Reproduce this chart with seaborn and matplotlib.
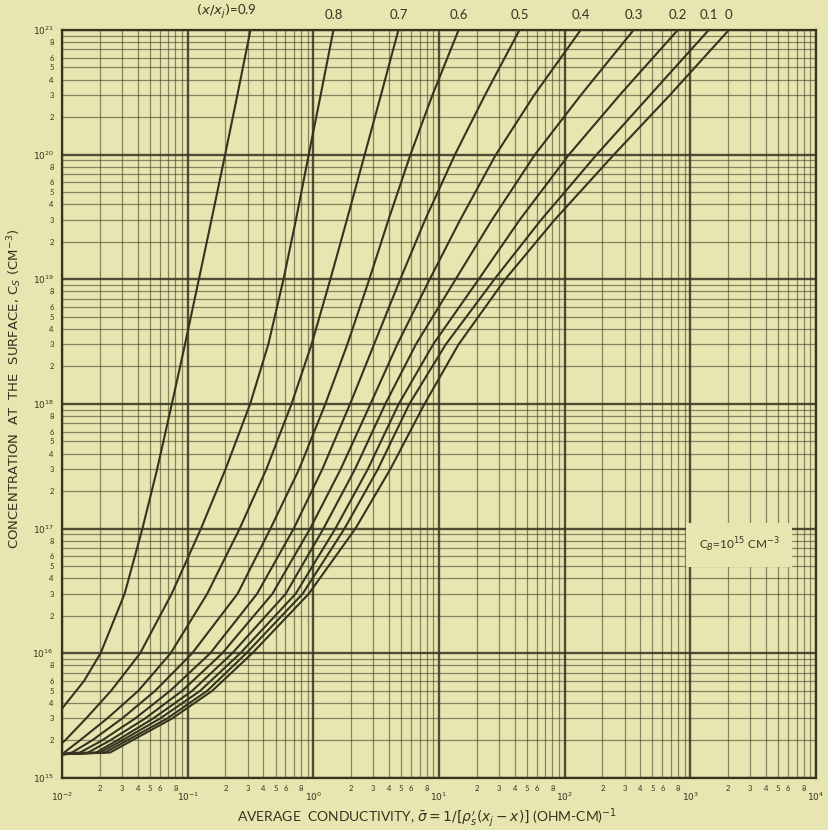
import numpy as np
import pandas as pd
import matplotlib
matplotlib.use("Agg")
import matplotlib.pyplot as plt
import seaborn as sns

# curve labels (x / xj)
ratios = ["0.9", "0.8", "0.7", "0.6", "0.5", "0.4", "0.3", "0.2", "0.1", "0"]

# surface concentration (cm^-3) levels where each curve was read
conc_09 = [3.6e15, 6e15, 1e16, 3e16, 1e17, 3e17, 1e18, 3e18, 1e19, 3e19, 1e20, 3e20, 1e21]
conc_08 = [1.9e15, 2e15, 3e15, 5e15, 1e16, 3e16, 1e17, 3e17, 1e18, 3e18, 1e19, 3e19, 1e20, 3e20, 1e21]
conc_07 = [1.55e15, 2e15, 3e15, 5e15, 1e16, 3e16, 1e17, 3e17, 1e18, 3e18, 1e19, 3e19, 1e20, 3e20, 1e21]
conc_lo = [1.55e15, 1.6e15, 2e15, 3e15, 5e15, 1e16, 3e16, 1e17, 3e17, 1e18, 3e18, 1e19, 3e19, 1e20,
           3e20, 1e21]

# average conductivity (ohm-cm)^-1 at those levels
sigma_09 = [0.01, 0.01497, 0.02027, 0.03148, 0.04363, 0.05715, 0.07482, 0.09517, 0.1228, 0.1547,
            0.1986, 0.2485, 0.3160]
sigma_08 = [0.01, 0.01057, 0.01553, 0.02457, 0.04183, 0.07457, 0.1276, 0.2001, 0.3142, 0.4379,
            0.5787, 0.7268, 0.9190, 1.143, 1.446]
sigma_07 = [0.01, 0.01386, 0.02288, 0.04047, 0.07318, 0.1430, 0.2592, 0.4230, 0.6705, 0.9676,
            1.366, 1.849, 2.563, 3.450, 4.757]
sigma_06 = [0.01, 0.01201, 0.01734, 0.03007, 0.05508, 0.1086, 0.2494, 0.4560, 0.7709, 1.246,
            1.863, 2.789, 3.960, 5.928, 8.860, 14.33]
sigma_05 = [0.01, 0.01391, 0.02083, 0.03817, 0.07253, 0.1511, 0.3566, 0.6981, 1.179, 1.961,
            3.040, 4.916, 7.751, 13.39, 23.21, 43.71]
sigma_04 = [0.01, 0.01611, 0.02413, 0.04585, 0.09042, 0.1883, 0.4722, 0.9430, 1.650, 2.851,
            4.653, 8.433, 14.75, 28.35, 57.15, 134.1]
sigma_03 = [0.01, 0.01866, 0.02743, 0.05311, 0.1086, 0.2262, 0.6026, 1.204, 2.146, 3.741,
            6.544, 13.56, 26.40, 57.99, 134.4, 354.0]
sigma_02 = [0.01, 0.02008, 0.03007, 0.06037, 0.1258, 0.2620, 0.7228, 1.497, 2.714, 4.783,
            8.975, 20.68, 43.87, 108.2, 273.8, 795.1]
sigma_01 = [0.01, 0.02201, 0.03295, 0.06866, 0.1430, 0.2925, 0.8217, 1.769, 3.264, 5.809,
            11.31, 27.58, 64.97, 179.6, 478.3, 1402]
sigma_00 = [0.01, 0.02413, 0.03613, 0.07524, 0.1567, 0.3265, 0.9190, 2.161, 4.100, 7.664,
            14.30, 33.63, 83.24, 246.6, 686.7, 2027]

sigmas = [sigma_09, sigma_08, sigma_07, sigma_06, sigma_05,
          sigma_04, sigma_03, sigma_02, sigma_01, sigma_00]
concs = [conc_09, conc_08, conc_07] + [conc_lo] * 7

x_decades = [-2, -1, 0, 1, 2, 3, 4]
y_decades = [15, 16, 17, 18, 19, 20, 21]

rows = []
for r, s, c in zip(ratios, sigmas, concs):
    for i in range(len(s)):
        rows.append({"ratio": r, "order": i, "sigma": s[i], "conc": c[i]})
df = pd.DataFrame(rows)

bg = "#e7e5b0"
ink = "#34341f"

sns.set_theme(style="white")
plt.rcParams["font.family"] = ["Lato", "DejaVu Sans"]

fig = plt.figure(figsize=(8.29, 8.30), dpi=100, facecolor=bg)
ax = fig.add_axes([0.0748, 0.0627, 0.9095, 0.9012])
ax.set_facecolor(bg)

ax.set_xscale("log")
ax.set_yscale("log")
ax.set_xlim(1e-2, 1e4)
ax.set_ylim(1e15, 1e21)


def minor_ticks(decades):
    return [m * 10.0 ** d for d in decades[:-1] for m in range(2, 10)]


def minor_labels(decades):
    return [str(m) if m in (2, 3, 4, 5, 6, 8) else "" for d in decades[:-1] for m in range(2, 10)]


# graph paper grid
ax.set_xticks([10.0 ** d for d in x_decades])
ax.set_xticklabels([r"$10^{%d}$" % d for d in x_decades])
ax.set_yticks([10.0 ** d for d in y_decades])
ax.set_yticklabels([r"$10^{%d}$" % d for d in y_decades])
ax.set_xticks(minor_ticks(x_decades), minor=True)
ax.set_xticklabels(minor_labels(x_decades), minor=True)
ax.set_yticks(minor_ticks(y_decades), minor=True)
ax.set_yticklabels(minor_labels(y_decades), minor=True)

ax.grid(which="major", color=ink, lw=1.7, alpha=0.85)
ax.grid(which="minor", color=ink, lw=0.9, alpha=0.55)
ax.tick_params(which="both", length=0, colors=ink)
ax.tick_params(which="minor", labelsize=5.5)
ax.tick_params(which="major", labelsize=6.5)
ax.tick_params(axis="x", which="minor", pad=5)
ax.tick_params(axis="x", which="major", pad=9)
ax.tick_params(axis="y", which="both", pad=6)

for sp in ax.spines.values():
    sp.set_color(ink)
    sp.set_linewidth(1.6)

sns.lineplot(data=df, x="sigma", y="conc", hue="ratio", units="ratio",
             estimator=None, sort=False, palette=[ink] * len(ratios),
             lw=1.5, legend=False, ax=ax)

# labels above each curve end
for r, s in zip(ratios, sigmas):
    txt = r"$(x/x_j)$=0.9" if r == "0.9" else r
    ax.text(s[-1] * (1.12 if r == "0.9" else 1.0), 1.012, txt,
            transform=ax.get_xaxis_transform(),
            ha="right" if r == "0.9" else "center", va="bottom",
            fontsize=9.5, color=ink)

ax.text(2440, 7.4e16, r"C$_B$=10$^{15}$ CM$^{-3}$", ha="center", va="center",
        fontsize=8.5, color=ink,
        bbox=dict(boxstyle="square,pad=1.1", fc=bg, ec="none"))

ax.set_xlabel(r"AVERAGE  CONDUCTIVITY, $\bar{\sigma}=1/[\rho_s'(x_j-x)]$ (OHM-CM)$^{-1}$",
              fontsize=10, color=ink)
ax.xaxis.set_label_coords(0.484, -0.037)
ax.set_ylabel(r"CONCENTRATION  AT  THE  SURFACE, C$_S$ (CM$^{-3}$)",
              fontsize=9.5, color=ink, family=["DejaVu Sans"])
ax.yaxis.set_label_coords(-0.050, 0.52)

fig.savefig("out.png", dpi=100, facecolor=bg)
